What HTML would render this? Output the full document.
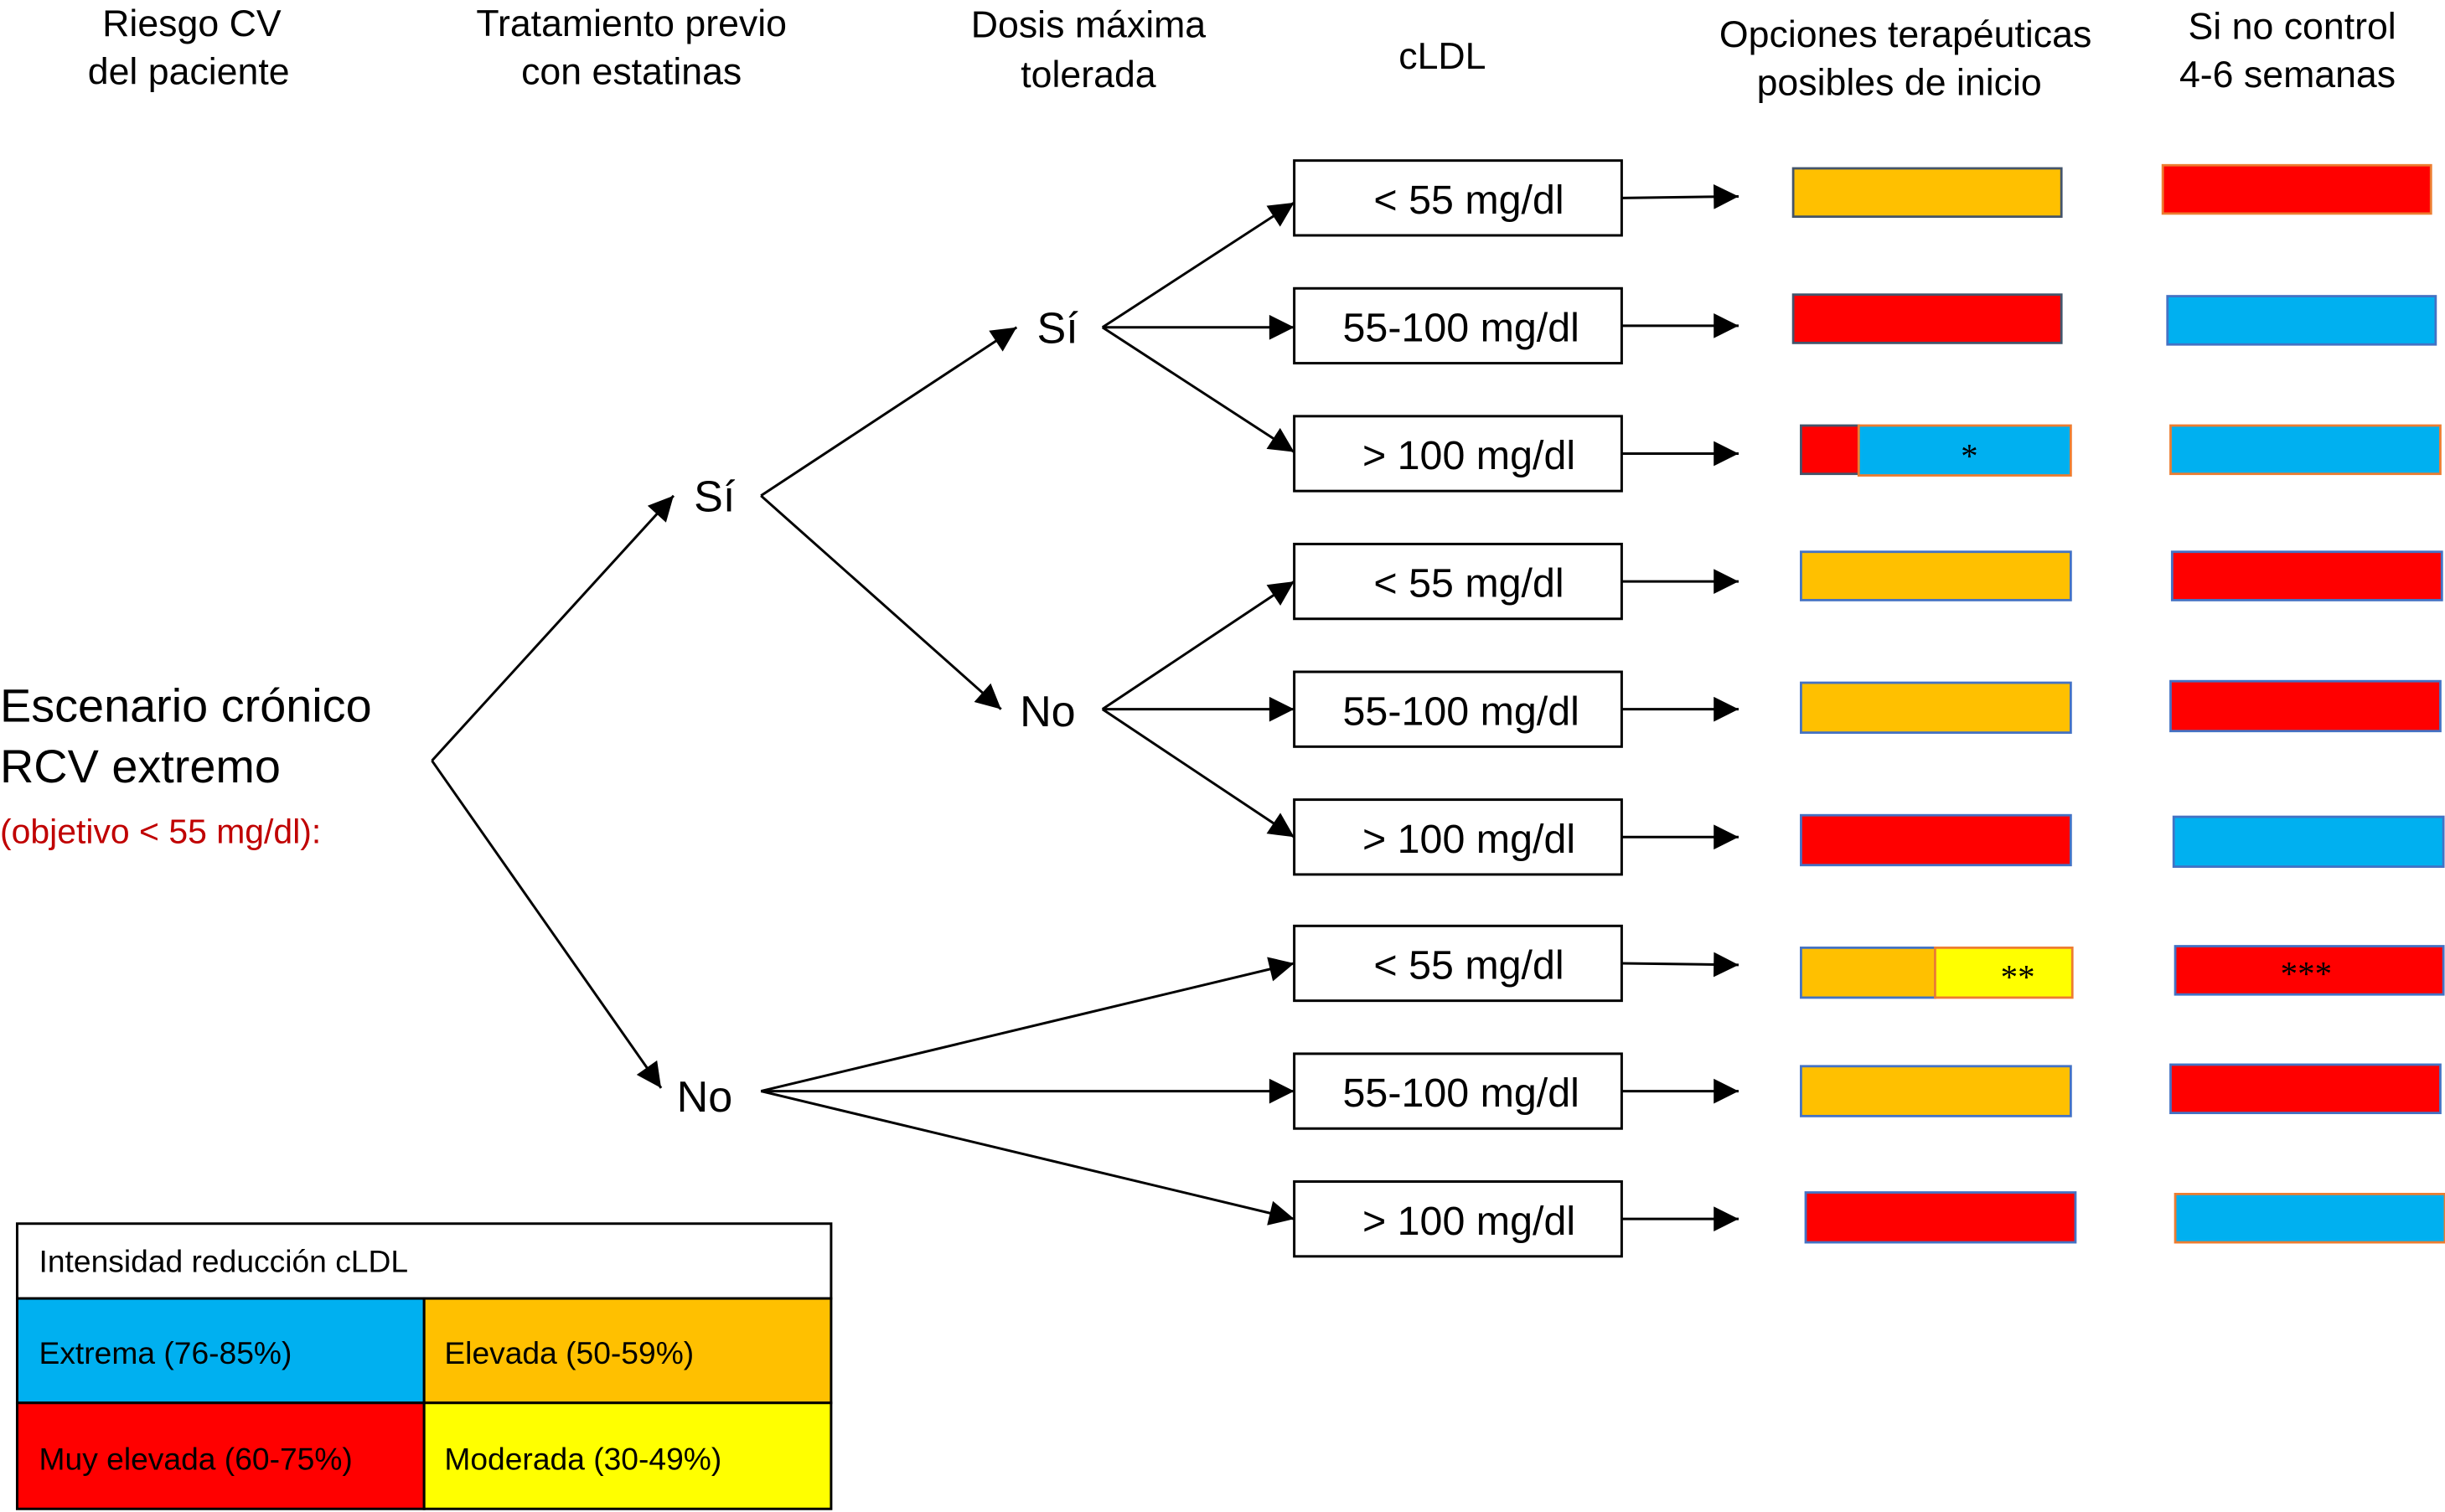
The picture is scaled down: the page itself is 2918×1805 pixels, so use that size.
<!DOCTYPE html>
<html><head><meta charset="utf-8"><style>html,body{margin:0;padding:0;background:#fff}svg{display:block}</style></head>
<body>
<svg width="2918" height="1805" viewBox="0 0 1568 970" preserveAspectRatio="none" xmlns="http://www.w3.org/2000/svg" font-family="Liberation Sans, Arial, sans-serif">
<defs><marker id="a" viewBox="0 0 10 10" refX="10" refY="5" markerWidth="18" markerHeight="16" markerUnits="userSpaceOnUse" orient="auto"><path d="M0,0L10,5L0,10z" fill="#000"/></marker></defs>
<g font-size="24" text-anchor="middle" fill="#000">
<text x="123" y="23">Riesgo CV</text><text x="121" y="54">del paciente</text>
<text x="405" y="23">Tratamiento previo</text><text x="405" y="54">con estatinas</text>
<text x="698" y="24">Dosis máxima</text><text x="698" y="56">tolerada</text>
<text x="925" y="44">cLDL</text>
<text x="1222" y="30">Opciones terapéuticas</text><text x="1218" y="61">posibles de inicio</text>
<text x="1470" y="25">Si no control</text><text x="1467" y="56">4-6 semanas</text>
</g>
<text x="0" y="463" font-size="30">Escenario crónico</text>
<text x="0" y="502" font-size="30">RCV extremo</text>
<text x="0" y="541" font-size="22" fill="#c00000">(objetivo &lt; 55 mg/dl):</text>
<g font-size="28">
<text x="445" y="328">Sí</text><text x="434" y="713">No</text>
<text x="665" y="220">Sí</text><text x="654" y="466">No</text>
</g>
<g stroke="#000" stroke-width="1.6" fill="none" marker-end="url(#a)">
<line x1="277" y1="488" x2="432" y2="318"/>
<line x1="277" y1="488" x2="424" y2="698"/>
<line x1="488" y1="318" x2="652" y2="210"/>
<line x1="488" y1="318" x2="642" y2="455"/>
<line x1="707" y1="210" x2="830" y2="130"/>
<line x1="707" y1="210" x2="830" y2="210"/>
<line x1="707" y1="210" x2="830" y2="290"/>
<line x1="707" y1="455" x2="830" y2="373"/>
<line x1="707" y1="455" x2="830" y2="455"/>
<line x1="707" y1="455" x2="830" y2="537"/>
<line x1="488" y1="700" x2="830" y2="618"/>
<line x1="488" y1="700" x2="830" y2="700"/>
<line x1="488" y1="700" x2="830" y2="782"/>
<line x1="1040" y1="127" x2="1115" y2="126"/>
<line x1="1040" y1="209" x2="1115" y2="209"/>
<line x1="1040" y1="291" x2="1115" y2="291"/>
<line x1="1040" y1="373" x2="1115" y2="373"/>
<line x1="1040" y1="455" x2="1115" y2="455"/>
<line x1="1040" y1="537" x2="1115" y2="537"/>
<line x1="1040" y1="618" x2="1115" y2="619"/>
<line x1="1040" y1="700" x2="1115" y2="700"/>
<line x1="1040" y1="782" x2="1115" y2="782"/>
</g>
<g stroke="#000" stroke-width="1.6" fill="#fff">
<rect x="830" y="103" width="210" height="48"/><rect x="830" y="185" width="210" height="48"/><rect x="830" y="267" width="210" height="48"/>
<rect x="830" y="349" width="210" height="48"/><rect x="830" y="431" width="210" height="48"/><rect x="830" y="513" width="210" height="48"/>
<rect x="830" y="594" width="210" height="48"/><rect x="830" y="676" width="210" height="48"/><rect x="830" y="758" width="210" height="48"/>
</g>
<g font-size="26" text-anchor="middle">
<text x="942" y="137">&lt; 55 mg/dl</text><text x="937" y="219">55-100 mg/dl</text><text x="942" y="301">&gt; 100 mg/dl</text>
<text x="942" y="383">&lt; 55 mg/dl</text><text x="937" y="465">55-100 mg/dl</text><text x="942" y="547">&gt; 100 mg/dl</text>
<text x="942" y="628">&lt; 55 mg/dl</text><text x="937" y="710">55-100 mg/dl</text><text x="942" y="792">&gt; 100 mg/dl</text>
</g>
<g stroke-width="1.5">
<rect x="1150" y="108" width="172" height="31" fill="#ffc000" stroke="#44546a"/>
<rect x="1387" y="106" width="172" height="31" fill="#ff0000" stroke="#ed7d31"/>
<rect x="1150" y="189" width="172" height="31" fill="#ff0000" stroke="#44546a"/>
<rect x="1390" y="190" width="172" height="31" fill="#00b0f0" stroke="#4472c4"/>
<rect x="1155" y="273" width="37" height="31" fill="#ff0000" stroke="#44546a"/>
<rect x="1192" y="273" width="136" height="32" fill="#00b0f0" stroke="#ed7d31"/>
<rect x="1392" y="273" width="173" height="31" fill="#00b0f0" stroke="#ed7d31"/>
<rect x="1155" y="354" width="173" height="31" fill="#ffc000" stroke="#4472c4"/>
<rect x="1393" y="354" width="173" height="31" fill="#ff0000" stroke="#4472c4"/>
<rect x="1155" y="438" width="173" height="32" fill="#ffc000" stroke="#4472c4"/>
<rect x="1392" y="437" width="173" height="32" fill="#ff0000" stroke="#4472c4"/>
<rect x="1155" y="523" width="173" height="32" fill="#ff0000" stroke="#4472c4"/>
<rect x="1394" y="524" width="173" height="32" fill="#00b0f0" stroke="#4472c4"/>
<rect x="1155" y="608" width="86" height="32" fill="#ffc000" stroke="#4472c4"/>
<rect x="1241" y="608" width="88" height="32" fill="#ffff00" stroke="#ed7d31"/>
<rect x="1395" y="607" width="172" height="31" fill="#ff0000" stroke="#4472c4"/>
<rect x="1155" y="684" width="173" height="32" fill="#ffc000" stroke="#4472c4"/>
<rect x="1392" y="683" width="173" height="31" fill="#ff0000" stroke="#4472c4"/>
<rect x="1158" y="765" width="173" height="32" fill="#ff0000" stroke="#4472c4"/>
<rect x="1395" y="766" width="173" height="31" fill="#00b0f0" stroke="#ed7d31"/>
</g>
<g font-family="Liberation Serif, serif" font-size="22" text-anchor="middle">
<text x="1263" y="300">*</text><text x="1294" y="634">**</text><text x="1479" y="632">***</text>
</g>
<g stroke="#000" stroke-width="1.6">
<rect x="11" y="785" width="522" height="48" fill="#fff"/>
<rect x="11" y="833" width="261" height="67" fill="#00b0f0"/>
<rect x="272" y="833" width="261" height="67" fill="#ffc000"/>
<rect x="11" y="900" width="261" height="68" fill="#ff0000"/>
<rect x="272" y="900" width="261" height="68" fill="#ffff00"/>
</g>
<g font-size="20">
<text x="25" y="816">Intensidad reducción cLDL</text>
<text x="25" y="875">Extrema (76-85%)</text>
<text x="285" y="875">Elevada (50-59%)</text>
<text x="25" y="943">Muy elevada (60-75%)</text>
<text x="285" y="943">Moderada (30-49%)</text>
</g>
</svg>
</body></html>
